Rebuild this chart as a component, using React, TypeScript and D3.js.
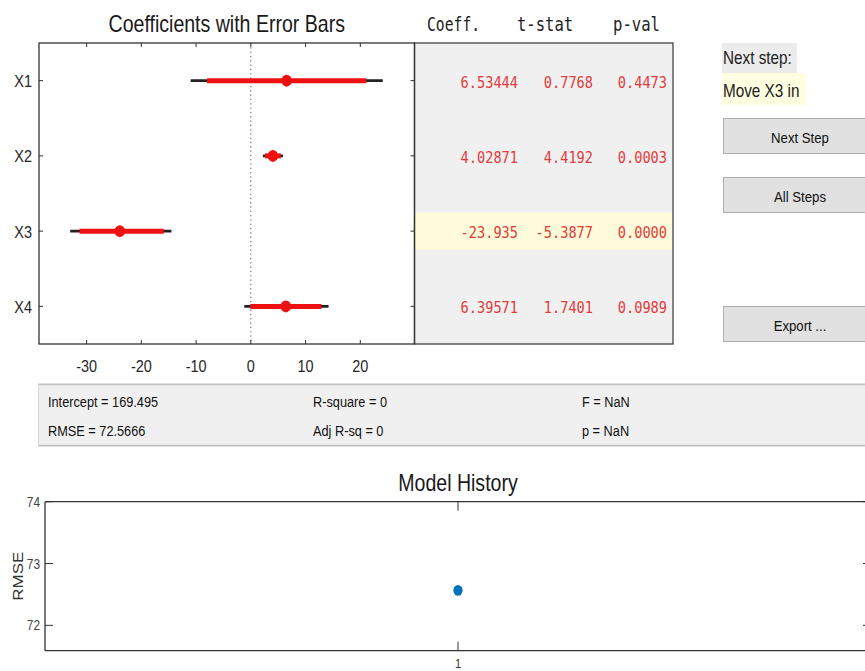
import React from "react";
import * as d3 from "d3";

// ---------- data ----------
const predictors = ["X1", "X2", "X3", "X4"];
const coeff = [6.53444, 4.02871, -23.935, 6.39571];
const tStat = [0.7768, 4.4192, -5.3877, 1.7401];
const pVal = [0.4473, 0.0003, 0.0, 0.0989];
const ci95Low = [-11.0, 2.2, -33.0, -1.2];
const ci95High = [24.1, 5.9, -14.5, 14.2];
const ci90Low = [-8.0, 2.6, -31.3, -0.1];
const ci90High = [21.1, 5.5, -15.9, 12.9];
const selectedRow = 2; // X3 highlighted
const tableHeaders = ["Coeff.", "t-stat", "p-val"];
const statsLeft = ["Intercept = 169.495", "RMSE = 72.5666"];
const statsMid = ["R-square = 0", "Adj R-sq = 0"];
const statsRight = ["F = NaN", "p = NaN"];
const nextStepLabel = "Next step:";
const nextStepAction = "Move X3 in";
const buttons = ["Next Step", "All Steps", "Export ..."];
const historySteps = [1];
const historyRMSE = [72.5666];

const W = 865;
const H = 671;
const SQ = 0.85;
const SANS = "'Liberation Sans', Arial, Helvetica, sans-serif";
const MONO = "'DejaVu Sans Mono', 'Liberation Mono', monospace";
const AX = "#333333";
const TXT = "#262626";

function T({ x, y, size, anchor = "start", fill = TXT, children, family = SANS }: any) {
  return (
    <text
      transform={`translate(${x},${y}) scale(${SQ},1)`}
      fontSize={size}
      textAnchor={anchor}
      fill={fill}
      fontFamily={family}
    >
      {children}
    </text>
  );
}

function M({ right, left, y, size, charW, fill, children }: any) {
  const s = String(children);
  const w = s.length * charW;
  const x0 = right !== undefined ? right - w : left;
  return (
    <text
      x={x0}
      y={y}
      fontSize={size}
      fontFamily={MONO}
      fill={fill}
      textLength={w}
      lengthAdjust="spacingAndGlyphs"
    >
      {s}
    </text>
  );
}

function fmtCoeff(v: number) {
  let s = v.toPrecision(6);
  if (s.indexOf(".") >= 0) s = s.replace(/0+$/, "").replace(/\.$/, "");
  return s;
}

export default function App() {
  // top coefficient axes
  const L = 39, R = 414.5, TOP = 43, BOT = 344;
  const TR = 673;
  const x = d3.scaleLinear().domain([-38.7, 29.9]).range([L, R]);
  const y = d3.scaleLinear().domain([0.5, 4.5]).range([TOP, BOT]);
  const xt = x.ticks(7);
  const rowIdx = predictors.map((_, i) => i + 1);
  const rowH = y(1.5) - y(1);

  // model history axes
  const HL = 45, HR = 871, HT = 501.7, HB = 650.7;
  const hx = d3.scaleLinear().domain([0, 2]).range([HL, HR]);
  const hy = d3.scaleLinear().domain([71.59, 74]).range([HB, HT]);
  const hyt = hy.ticks(3);

  const red = "#ee1111";
  const tableRed = "#e23b3b";

  return (
    <svg
      width={W}
      height={H}
      style={{ position: "absolute", left: 0, top: 0, background: "#ffffff" }}
    >
      <rect x={0} y={0} width={W} height={H} fill="#ffffff" />

      {/* ---- Coefficients axes ---- */}
      <T x={(L + R) / 2} y={32} size={23} anchor="middle" fill="#1a1a1a">
        Coefficients with Error Bars
      </T>

      {/* table background */}
      <rect x={R} y={TOP} width={TR - R} height={BOT - TOP} fill="#f0f0f0" />
      <rect
        x={R}
        y={y(selectedRow + 1) - rowH / 2}
        width={TR - R}
        height={rowH}
        fill="#fdfbd9"
      />
      <rect x={R} y={TOP} width={TR - R} height={BOT - TOP} fill="none" stroke="#444" strokeWidth={1.3} />

      {/* dotted zero line */}
      <line x1={x(0)} x2={x(0)} y1={TOP} y2={BOT} stroke="#555" strokeWidth={1} strokeDasharray="1.3,3" />

      {/* error bars */}
      {predictors.map((p, i) => {
        const yy = y(i + 1);
        return (
          <g key={p}>
            <line x1={x(ci95Low[i])} x2={x(ci95High[i])} y1={yy} y2={yy} stroke="#222" strokeWidth={2.6} />
            <line x1={x(ci90Low[i])} x2={x(ci90High[i])} y1={yy} y2={yy} stroke={red} strokeWidth={5} />
            <ellipse cx={x(coeff[i])} cy={yy} rx={5.3} ry={6} fill={red} />
          </g>
        );
      })}

      {/* axes box */}
      <rect x={L} y={TOP} width={R - L} height={BOT - TOP} fill="none" stroke={AX} strokeWidth={1.3} />
      {xt.map((t) => (
        <g key={t}>
          <line x1={x(t)} x2={x(t)} y1={BOT} y2={BOT - 4} stroke={AX} />
          <line x1={x(t)} x2={x(t)} y1={TOP} y2={TOP + 4} stroke={AX} />
          <T x={x(t)} y={372} size={17} anchor="middle">
            {String(t)}
          </T>
        </g>
      ))}
      {rowIdx.map((r, i) => (
        <g key={r}>
          <line x1={L} x2={L + 4} y1={y(r)} y2={y(r)} stroke={AX} />
          <line x1={R} x2={R - 4} y1={y(r)} y2={y(r)} stroke={AX} />
          <T x={32} y={y(r) + 6.5} size={17} anchor="end">
            {predictors[i]}
          </T>
        </g>
      ))}

      {/* table header */}
      <M left={427} y={31} size={19} charW={8.85} fill="#222">{tableHeaders[0]}</M>
      <M left={517} y={31} size={19} charW={9.35} fill="#222">{tableHeaders[1]}</M>
      <M left={613} y={31} size={19} charW={9.4} fill="#222">{tableHeaders[2]}</M>

      {/* table values */}
      {predictors.map((p, i) => {
        const yy = y(i + 1) + 7;
        return (
          <g key={p + "v"}>
            <M right={518} y={yy} size={16.5} charW={8.2} fill={tableRed}>{fmtCoeff(coeff[i])}</M>
            <M right={593} y={yy} size={16.5} charW={8.2} fill={tableRed}>{tStat[i].toFixed(4)}</M>
            <M right={667} y={yy} size={16.5} charW={8.2} fill={tableRed}>{pVal[i].toFixed(4)}</M>
          </g>
        );
      })}

      {/* ---- right panel ---- */}
      <rect x={722} y={43} width={75} height={30} fill="#ececec" />
      <T x={723} y={63.5} size={18} fill="#222">{nextStepLabel}</T>
      <rect x={722} y={73} width={84} height={32} fill="#fefee0" />
      <T x={723} y={97} size={18} fill="#222">{nextStepAction}</T>
      {[118, 177, 306].map((by, i) => (
        <g key={buttons[i]}>
          <rect x={723.5} y={by + 0.5} width={200} height={35} fill="#e1e1e1" stroke="#adadad" />
          <T x={800} y={by + 24.5} size={15.5} anchor="middle" fill="#111">
            {buttons[i]}
          </T>
        </g>
      ))}

      {/* ---- stats panel ---- */}
      <rect x={38.5} y={384} width={880} height={62} fill="#f0f0f0" stroke="#d4d4d4" />
      <line x1={38.5} x2={W} y1={384.5} y2={384.5} stroke="#c2c2c2" strokeWidth={1.5} />
      <line x1={38.5} x2={W} y1={445.5} y2={445.5} stroke="#c2c2c2" strokeWidth={1.5} />
      {[406.5, 436].map((by, i) => (
        <g key={by}>
          <T x={48} y={by} size={15} fill="#111">{statsLeft[i]}</T>
          <T x={313} y={by} size={15} fill="#111">{statsMid[i]}</T>
          <T x={582} y={by} size={15} fill="#111">{statsRight[i]}</T>
        </g>
      ))}

      {/* ---- Model History ---- */}
      <T x={hx(1)} y={491} size={23} anchor="middle" fill="#1a1a1a">Model History</T>
      <line x1={HL} x2={HR} y1={HT} y2={HT} stroke={AX} strokeWidth={1.3} />
      <line x1={HL} x2={HR} y1={HB} y2={HB} stroke={AX} strokeWidth={1.3} />
      <line x1={HL} x2={HL} y1={HT} y2={HB} stroke={AX} strokeWidth={1.3} />
      <line x1={HR} x2={HR} y1={HT} y2={HB} stroke={AX} strokeWidth={1.3} />
      {hyt.map((t) => (
        <g key={t}>
          <line x1={HL} x2={HL + 8} y1={hy(t)} y2={hy(t)} stroke={AX} />
          <line x1={HR} x2={HR - 8} y1={hy(t)} y2={hy(t)} stroke={AX} />
          <T x={40} y={hy(t) + 5} size={14} anchor="end" fill="#444">{String(t)}</T>
        </g>
      ))}
      {historySteps.map((s) => (
        <g key={s}>
          <line x1={hx(s)} x2={hx(s)} y1={HT} y2={HT + 9} stroke={AX} />
          <line x1={hx(s)} x2={hx(s)} y1={HB} y2={HB - 9} stroke={AX} />
          <T x={hx(s)} y={668} size={13} anchor="middle" fill="#333">{String(s)}</T>
        </g>
      ))}
      <text
        transform={`translate(23,${(HT + HB) / 2}) rotate(-90) scale(1,${SQ})`}
        fontSize={17}
        textAnchor="middle"
        fontFamily={SANS}
        fill="#333"
      >
        RMSE
      </text>
      {historySteps.map((s, i) => (
        <ellipse key={"pt" + s} cx={hx(s)} cy={hy(historyRMSE[i])} rx={4.6} ry={5.4} fill="#0072BD" />
      ))}
    </svg>
  );
}
